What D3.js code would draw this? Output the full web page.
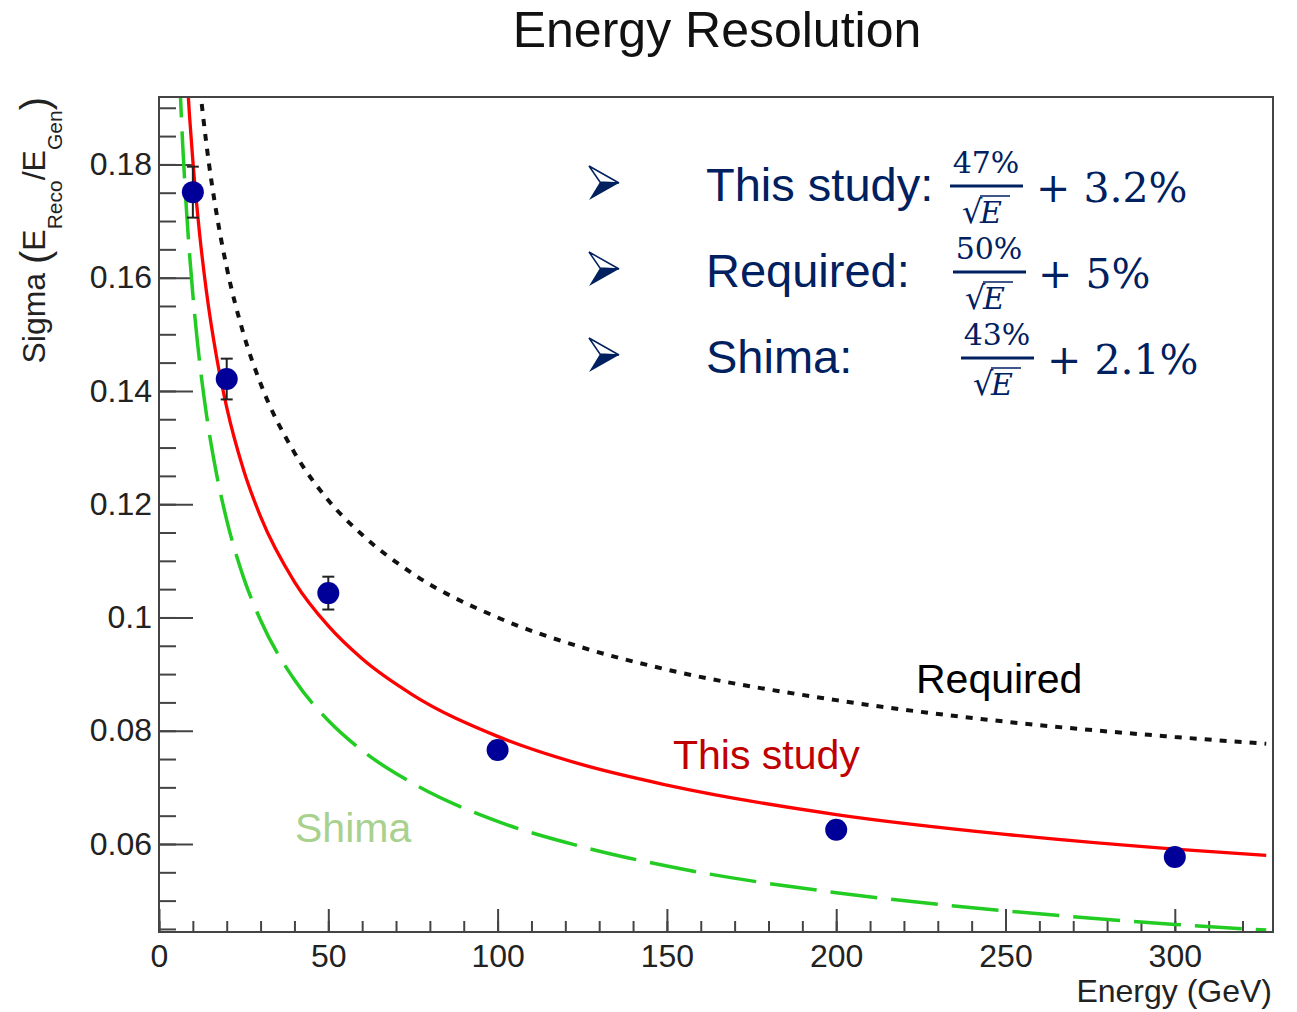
<!DOCTYPE html>
<html>
<head>
<meta charset="utf-8">
<script src="https://cdn.jsdelivr.net/npm/d3@7"></script>
<style>
  body { margin: 0; background: white; }
  text { font-family: "Liberation Sans", Arial, sans-serif; }
  .tick text { font-size: 32px; fill: #222; }
  .tick line { stroke: #444; stroke-width: 2; }
</style>
</head>
<body>
<script>

// measured points
var energies = [10, 20, 50, 100, 200, 300];
var sigmas = [0.1751, 0.1421, 0.1043, 0.0766, 0.0625, 0.0577];
var sigmaErrors = [0.0045, 0.0036, 0.0029, 0.0015, 0.0012, 0.0010];

// curves
var curveEnergies = [6, 7, 8, 9, 10, 12, 14, 17, 20, 25, 30, 40, 50, 60, 75, 100, 125, 150, 200, 250, 300, 327];
var thisStudyCurve = [0.2239, 0.2096, 0.1982, 0.1887, 0.1806, 0.1677, 0.1576, 0.1460, 0.1371, 0.1260, 0.1178, 0.1063,
                      0.0985, 0.0927, 0.0863, 0.0790, 0.0740, 0.0704, 0.0652, 0.0617, 0.0591, 0.0580];
var requiredCurve = [0.2541, 0.2390, 0.2268, 0.2167, 0.2081, 0.1943, 0.1836, 0.1713, 0.1618, 0.1500, 0.1413, 0.1291,
                     0.1207, 0.1146, 0.1077, 0.1000, 0.0947, 0.0908, 0.0854, 0.0816, 0.0789, 0.0777];
var shimaCurve = [0.1966, 0.1835, 0.1730, 0.1643, 0.1570, 0.1451, 0.1359, 0.1253, 0.1172, 0.1070, 0.0995, 0.0890,
                  0.0818, 0.0765, 0.0707, 0.0640, 0.0595, 0.0561, 0.0514, 0.0482, 0.0458, 0.0448];

// axes
var xTickValues = [0, 50, 100, 150, 200, 250, 300];
var xTickLabels = ["0", "50", "100", "150", "200", "250", "300"];
var yTickValues = [0.06, 0.08, 0.10, 0.12, 0.14, 0.16, 0.18];
var yTickLabels = ["0.06", "0.08", "0.1", "0.12", "0.14", "0.16", "0.18"];

// formula box
var formulaNames = ["This study:", "Required:", "Shima:"];
var formulaStochastic = ["47%", "50%", "43%"];
var formulaConstant = ["3.2%", "5%", "2.1%"];

window.onload = function() {
  var w = 1297;
  var h = 1012;
  var margin = {top: 97, right: 24, bottom: 80, left: 159};

  var svg = d3.select("body")
              .append("svg")
              .attr("width", w)
              .attr("height", h);

  svg.append("rect")
     .attr("width", w)
     .attr("height", h)
     .style("fill", "white");

  var xScale = d3.scaleLinear()
                 .domain([0, 329])
                 .range([margin.left, w - margin.right]);

  var yScale = d3.scaleLinear()
                 .domain([0.04446, 0.1919])
                 .range([h - margin.bottom, margin.top]);

  draw_axes(svg, xScale, yScale);
  draw_curves(svg, xScale, yScale);
  draw_points(svg, xScale, yScale);
  draw_texts(svg);
  draw_formulas(svg);
};

function draw_axes(svg, xScale, yScale) {
  var y0 = yScale.range()[0];
  var x0 = xScale.range()[0];

  // minor ticks x
  svg.append("g")
     .attr("transform", "translate(0," + y0 + ")")
     .call(d3.axisBottom(xScale).tickValues(d3.range(0, 330, 10)).tickSize(-11).tickFormat(""))
     .call(function(g) { g.select(".domain").remove(); });

  // major ticks x
  svg.append("g")
     .attr("transform", "translate(0," + y0 + ")")
     .call(d3.axisBottom(xScale)
             .tickValues(xTickValues)
             .tickSize(-23)
             .tickPadding(12)
             .tickFormat(function(d, i) { return xTickLabels[i]; }))
     .call(function(g) { g.select(".domain").remove(); });

  // minor ticks y
  var minorY = d3.range(9, 39).map(function(k) { return k * 0.005; });
  svg.append("g")
     .attr("transform", "translate(" + x0 + ",0)")
     .call(d3.axisLeft(yScale).tickValues(minorY).tickSize(-17).tickFormat(""))
     .call(function(g) { g.select(".domain").remove(); });

  // major ticks y
  svg.append("g")
     .attr("transform", "translate(" + x0 + ",0)")
     .call(d3.axisLeft(yScale)
             .tickValues(yTickValues)
             .tickSize(-34)
             .tickPadding(7)
             .tickFormat(function(d, i) { return yTickLabels[i]; }))
     .call(function(g) { g.select(".domain").remove(); });

  // frame
  svg.append("rect")
     .attr("x", x0)
     .attr("y", yScale.range()[1])
     .attr("width", xScale.range()[1] - x0)
     .attr("height", y0 - yScale.range()[1])
     .style("fill", "none")
     .style("stroke", "#444")
     .style("stroke-width", 2);

  // axis titles
  svg.append("text")
     .attr("x", 1272)
     .attr("y", 1002)
     .style("text-anchor", "end")
     .style("font-size", "32px")
     .style("fill", "#222")
     .text("Energy (GeV)");

  var ylab = svg.append("text")
     .attr("transform", "translate(45, 97) rotate(-90)")
     .style("text-anchor", "end")
     .style("font-size", "32px")
     .style("fill", "#222");
  ylab.append("tspan").text("Sigma ");
  ylab.append("tspan").style("font-size", "40px").attr("dy", 4).text("(");
  ylab.append("tspan").attr("dy", -4).text("E");
  ylab.append("tspan").style("font-size", "21px").attr("dy", 17).text("Reco");
  ylab.append("tspan").attr("dy", -17).text("/E");
  ylab.append("tspan").style("font-size", "21px").attr("dy", 17).text("Gen");
  ylab.append("tspan").style("font-size", "40px").attr("dy", -13).text(")");

  // title
  svg.append("text")
     .attr("x", 717)
     .attr("y", 47)
     .style("text-anchor", "middle")
     .style("font-size", "50px")
     .style("fill", "#111")
     .text("Energy Resolution");
}

function draw_curves(svg, xScale, yScale) {
  svg.append("clipPath")
     .attr("id", "plotclip")
     .append("rect")
     .attr("x", xScale.range()[0] + 1)
     .attr("y", yScale.range()[1] + 1)
     .attr("width", xScale.range()[1] - xScale.range()[0] - 2)
     .attr("height", yScale.range()[0] - yScale.range()[1] - 2);

  var line = d3.line()
               .x(function(d) { return xScale(d[0]); })
               .y(function(d) { return yScale(d[1]); })
               .curve(d3.curveMonotoneX);

  var curves = [
    {values: shimaCurve, color: "#22cc22", width: 3.5, dash: "47,14"},
    {values: requiredCurve, color: "#111", width: 4, dash: "7,8"},
    {values: thisStudyCurve, color: "#ff0000", width: 3.3, dash: null}
  ];

  var g = svg.append("g").attr("clip-path", "url(#plotclip)");

  curves.forEach(function(c) {
    var pts = curveEnergies.map(function(e, i) { return [e, c.values[i]]; });
    g.append("path")
     .attr("d", line(pts))
     .style("fill", "none")
     .style("stroke", c.color)
     .style("stroke-width", c.width)
     .style("stroke-dasharray", c.dash);
  });
}

function draw_points(svg, xScale, yScale) {
  var data = energies.map(function(e, i) { return [e, sigmas[i], sigmaErrors[i]]; });

  // error bars
  var bars = svg.selectAll(".err")
                .data(data)
                .enter().append("g")
                .attr("class", "err")
                .style("stroke", "#222")
                .style("stroke-width", 2);

  bars.append("line")
      .attr("x1", function(d) { return xScale(d[0]); })
      .attr("x2", function(d) { return xScale(d[0]); })
      .attr("y1", function(d) { return yScale(d[1] + d[2]); })
      .attr("y2", function(d) { return yScale(d[1] - d[2]); });

  [1, -1].forEach(function(s) {
    bars.append("line")
        .attr("x1", function(d) { return xScale(d[0]) - 6; })
        .attr("x2", function(d) { return xScale(d[0]) + 6; })
        .attr("y1", function(d) { return yScale(d[1] + s * d[2]); })
        .attr("y2", function(d) { return yScale(d[1] + s * d[2]); });
  });

  svg.selectAll(".dot")
     .data(data)
     .enter().append("circle")
     .attr("class", "dot")
     .attr("cx", function(d) { return xScale(d[0]); })
     .attr("cy", function(d) { return yScale(d[1]); })
     .attr("r", 11)
     .style("fill", "#000099");
}

function draw_texts(svg) {
  var labels = [
    {text: "Required", x: 916, y: 693, color: "#000"},
    {text: "This study", x: 673, y: 769, color: "#c00000"},
    {text: "Shima", x: 295, y: 842, color: "#a9d18e"}
  ];
  labels.forEach(function(l) {
    svg.append("text")
       .attr("x", l.x)
       .attr("y", l.y)
       .style("font-size", "41px")
       .style("fill", l.color)
       .text(l.text);
  });
}

function draw_formulas(svg) {
  var navy = "#002060";
  // per row offset of the fraction block
  var fracX = [986, 989, 997];
  var plusX = [1036, 1038, 1047];

  formulaNames.forEach(function(name, i) {
    var base = 201 + i * 86;
    var g = svg.append("g").style("fill", navy);

    // arrow bullet
    var tx = 619, ty = base - 18;
    g.append("path")
     .attr("d", "M" + (tx - 30) + "," + (ty - 17) + "L" + tx + "," + ty + "L" + (tx - 19) + "," + (ty - 1) + "Z")
     .style("fill", "white")
     .style("stroke", navy)
     .style("stroke-width", 1.5);
    g.append("path")
     .attr("d", "M" + (tx - 19) + "," + (ty - 1) + "L" + tx + "," + ty + "L" + (tx - 30) + "," + (ty + 17) + "Z")
     .style("fill", navy);

    g.append("text")
     .attr("x", 706)
     .attr("y", base)
     .style("font-size", "47px")
     .text(name);

    var fx = fracX[i];
    g.append("text")
     .attr("x", fx)
     .attr("y", base - 28)
     .style("text-anchor", "middle")
     .style("font-family", "'DejaVu Serif', serif")
     .style("font-size", "30px")
     .text(formulaStochastic[i]);

    g.append("line")
     .attr("x1", fx - 36)
     .attr("x2", fx + 37)
     .attr("y1", base - 15)
     .attr("y2", base - 15)
     .style("stroke", navy)
     .style("stroke-width", 3);

    // sqrt(E)
    g.append("text")
     .attr("x", fx - 24)
     .attr("y", base + 22)
     .style("font-family", "'DejaVu Serif', serif")
     .style("font-size", "32px")
     .text("\u221A");
    g.append("text")
     .attr("x", fx - 6)
     .attr("y", base + 22)
     .style("font-family", "'DejaVu Serif', serif")
     .style("font-style", "italic")
     .style("font-size", "30px")
     .text("E");
    g.append("line")
     .attr("x1", fx - 6)
     .attr("x2", fx + 24)
     .attr("y1", base - 5)
     .attr("y2", base - 5)
     .style("stroke", navy)
     .style("stroke-width", 1.5);

    g.append("text")
     .attr("x", plusX[i])
     .attr("y", base + 1)
     .style("font-family", "'DejaVu Serif', serif")
     .style("font-size", "41px")
     .text("+ " + formulaConstant[i]);
  });
}

</script>
</body>
</html>
